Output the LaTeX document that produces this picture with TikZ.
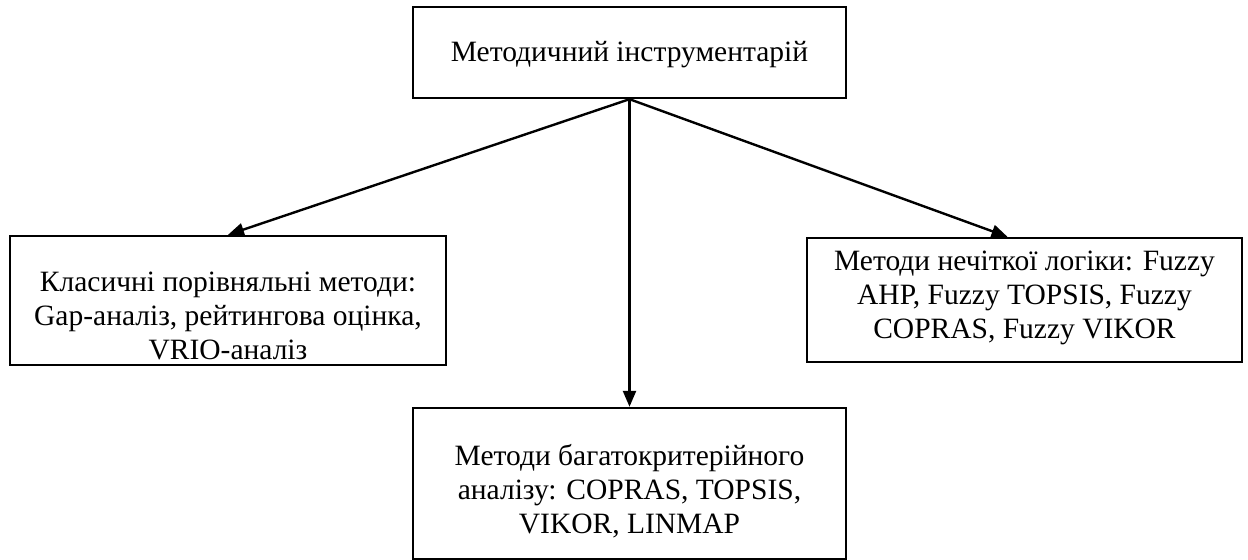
\documentclass[tikz,border=0pt]{standalone}
\usepackage{fontspec}
\setmainfont{Liberation Serif}
\usetikzlibrary{arrows.meta}
\begin{document}
\begin{tikzpicture}[x=0.5pt,y=-0.5pt,
  box/.style={draw, line width=1.2pt, inner sep=0pt},
  txt/.style={align=center, inner sep=0pt, font=\fontsize{14.75}{17}\selectfont},
  arr/.style={line width=1.2pt, -{Triangle[length=8pt,width=6.5pt]}}]
\useasboundingbox (0,0) rectangle (1248,560);
% boxes
\node[box, minimum width=216.5pt, minimum height=45.5pt] (top) at (629.5,52.5) {};
\node[box, minimum width=218pt, minimum height=64.5pt] (left) at (228,300.5) {};
\node[box, minimum width=217.5pt, minimum height=62pt] (right) at (1024.5,300) {};
\node[box, minimum width=216.5pt, minimum height=75.5pt] (bottom) at (629.5,483.5) {};
% texts
\node[txt] (ttop) at (629.5,55) {Методичний інструментарій};
\node[txt] (tleft) at (228,316) {Класичні порівняльні методи:\\Gap-аналіз, рейтингова оцінка,\\VRIO-аналіз};
\node[txt] (tright) at (1024.5,298) {Методи нечіткої логіки: Fuzzy\\AHP, Fuzzy TOPSIS, Fuzzy\\COPRAS, Fuzzy VIKOR};
\node[txt] (tbottom) at (629.5,491) {Методи багатокритерійного\\аналізу: COPRAS, TOPSIS,\\VIKOR, LINMAP};
% arrows
\draw[arr] (top.south) -- (left.north);
\draw[arr] (top.south) -- (bottom.north);
\draw[arr] (top.south) -- ([xshift=-8.5pt]right.north);
\end{tikzpicture}
\end{document}
